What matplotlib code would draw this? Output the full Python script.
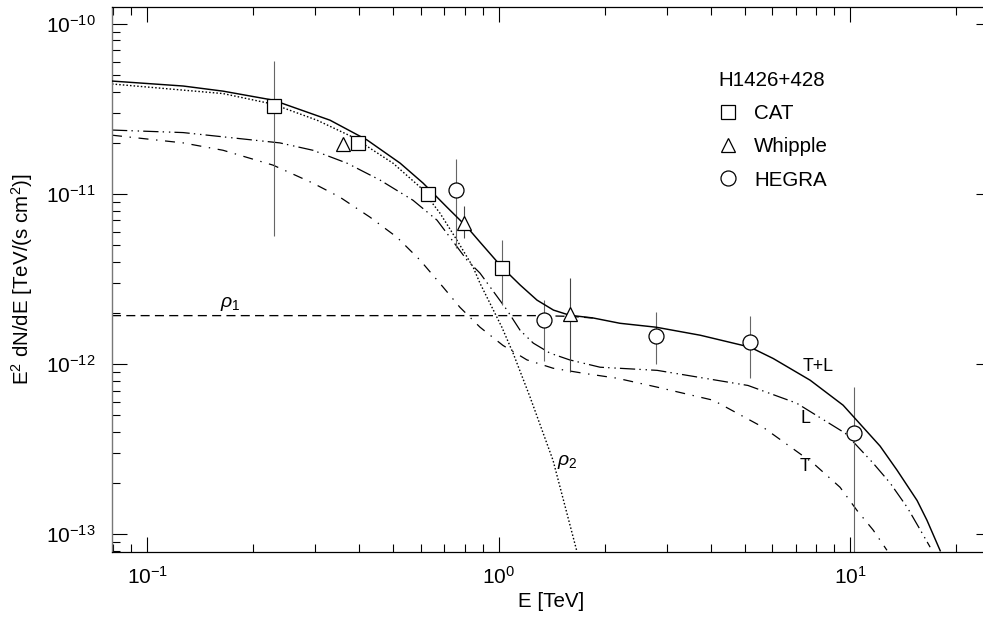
import numpy as np
import matplotlib
matplotlib.use("Agg")
import matplotlib.pyplot as plt
from matplotlib.lines import Line2D
from matplotlib.ticker import LogLocator, NullFormatter, FixedLocator

plt.rcParams['font.family'] = ['Liberation Sans', 'DejaVu Sans']
plt.rcParams['mathtext.fontset'] = 'custom'
plt.rcParams['mathtext.rm'] = 'Liberation Sans'
plt.rcParams['mathtext.it'] = 'Liberation Sans:italic'
plt.rcParams['lines.scale_dashes'] = False

# measured points: H1426+428
cat_e = [0.229, 0.398, 0.629, 1.02]
cat_f = [3.3e-11, 2.0e-11, 1.0e-11, 3.7e-12]
cat_lo = [5.7e-12, 2.0e-11, 1.0e-11, 2.22e-12]
cat_hi = [6.1e-11, 2.0e-11, 1.0e-11, 5.4e-12]

whipple_e = [0.360, 0.797, 1.59]
whipple_f = [1.97e-11, 6.8e-12, 1.97e-12]
whipple_lo = [1.97e-11, 5.5e-12, 9.0e-13]
whipple_hi = [1.97e-11, 8.5e-12, 3.2e-12]

hegra_e = [0.755, 1.348, 2.80, 5.18, 10.25]
hegra_f = [1.06e-11, 1.82e-12, 1.46e-12, 1.35e-12, 3.93e-13]
hegra_lo = [4.8e-12, 1.05e-12, 1.0e-12, 8.3e-13, 5e-14]
hegra_hi = [1.61e-11, 2.38e-12, 2.02e-12, 1.91e-12, 7.3e-13]

# model curves
tl_e = [0.0794, 0.1265, 0.1643, 0.2279, 0.331, 0.422, 0.524, 0.609, 0.711, 0.812,
        0.884, 1.02, 1.15, 1.284, 1.43, 1.59, 1.853, 2.21, 2.80, 3.74, 5.18, 6.03,
        7.68, 9.53, 12.14, 13.57, 15.47, 16.5, 18.0]
tl_f = [4.62e-11, 4.32e-11, 4.03e-11, 3.57e-11, 2.72e-11, 2.08e-11, 1.52e-11, 1.16e-11,
        8.4e-12, 6.4e-12, 5.22e-12, 3.72e-12, 2.92e-12, 2.38e-12, 2.08e-12, 1.94e-12,
        1.87e-12, 1.74e-12, 1.65e-12, 1.48e-12, 1.26e-12, 1.08e-12, 8.05e-13, 5.74e-13,
        3.3e-13, 2.38e-13, 1.58e-13, 1.21e-13, 8.0e-14]

rho2_e = [0.0794, 0.1643, 0.2279, 0.304, 0.385, 0.50, 0.597, 0.68, 0.76, 0.845,
          0.884, 1.02, 1.098, 1.227, 1.426, 1.668]
rho2_f = [4.44e-11, 3.9e-11, 3.38e-11, 2.72e-11, 2.16e-11, 1.52e-11, 1.10e-11, 7.73e-12,
          5.36e-12, 3.72e-12, 2.99e-12, 1.65e-12, 1.16e-12, 6.4e-13, 2.72e-13, 7.9e-14]

rho1_e = [0.0794, 1.3, 1.6, 1.85]
rho1_f = [1.93e-12, 1.93e-12, 1.91e-12, 1.87e-12]

l_e = [0.0794, 0.1265, 0.2384, 0.296, 0.370, 0.459, 0.570, 0.667, 0.711, 0.812, 0.884,
       1.055, 1.15, 1.253, 1.40, 1.59, 1.94, 2.82, 5.11, 7.03, 9.66, 11.6, 12.97, 14.5,
       15.8, 16.85]
l_f = [2.38e-11, 2.3e-11, 2.0e-11, 1.81e-11, 1.52e-11, 1.21e-11, 9.2e-12, 7.03e-12,
       5.9e-12, 4.09e-12, 3.43e-12, 2.08e-12, 1.58e-12, 1.33e-12, 1.16e-12, 1.06e-12,
       9.6e-13, 9.2e-13, 7.5e-13, 5.9e-13, 3.93e-13, 2.62e-13, 2.0e-13, 1.44e-13,
       1.06e-13, 8.4e-14]

t_e = [0.0794, 0.1265, 0.1643, 0.228, 0.296, 0.353, 0.430, 0.513, 0.597, 0.694, 0.775,
       0.884, 1.027, 1.202, 1.426, 1.736, 2.169, 2.82, 4.07, 5.64, 7.83, 9.34, 10.44,
       11.6, 12.7]
t_f = [2.22e-11, 2.0e-11, 1.81e-11, 1.48e-11, 1.16e-11, 9.6e-12, 7.32e-12, 5.58e-12,
       4.09e-12, 2.84e-12, 2.16e-12, 1.65e-12, 1.29e-12, 1.06e-12, 9.47e-13, 8.85e-13,
       8.27e-13, 7.33e-13, 6.14e-13, 4.26e-13, 2.62e-13, 1.89e-13, 1.38e-13, 1.06e-13,
       8.05e-14]

x_major = [0.1, 1.0, 10.0]
y_major = [1e-13, 1e-12, 1e-11, 1e-10]

fig = plt.figure(figsize=(9.83, 6.18), dpi=100)
ax = fig.add_axes([112 / 983, 66.3 / 618, 879 / 983, 544.7 / 618])
ax.set_xscale('log')
ax.set_yscale('log')

ax.plot(tl_e, tl_f, color='black', lw=1.05, zorder=3)
ax.plot(rho2_e, rho2_f, color='black', lw=1.0, ls=(0, (1.1, 1.5)))
ax.plot(rho1_e, rho1_f, color='black', lw=0.95, ls=(0, (6.5, 3.8)))
ax.plot(l_e, l_f, color='black', lw=0.9, ls=(0, (11, 3, 1, 3.5, 1, 3)))
ax.plot(t_e, t_f, color='black', lw=0.9, ls=(0, (7.2, 5.5, 1, 5.5)))


def draw_points(e, f, lo, hi, marker, ms, ecolor):
    f = np.array(f)
    yerr = [f - np.array(lo), np.array(hi) - f]
    ax.errorbar(e, f, yerr=yerr, fmt='none', ecolor=ecolor, elinewidth=0.8,
                capsize=0, zorder=2)
    ax.plot(e, f, ls='none', marker=marker, ms=ms, mfc='white', mec='black',
            mew=0.9, zorder=4)


draw_points(cat_e, cat_f, cat_lo, cat_hi, 's', 9.4, '#666666')
draw_points(whipple_e, whipple_f, whipple_lo, whipple_hi, '^', 9.6, '#444444')
draw_points(hegra_e, hegra_f, hegra_lo, hegra_hi, 'o', 10.8, '#666666')

ax.set_xlim(0.0794, 25.1)
ax.set_ylim(7.9e-14, 1.259e-10)

ax.text(0.172, 2.25e-12, r'$\rho_1$', fontsize=14, ha='center', va='center')
ax.text(1.563, 2.65e-13, r'$\rho_2$', fontsize=14, ha='center', va='center')
ax.text(8.09, 9.7e-13, 'T+L', fontsize=12.8, ha='center', va='center')
ax.text(7.43, 4.8e-13, 'L', fontsize=12.8, ha='center', va='center')
ax.text(7.43, 2.51e-13, 'T', fontsize=12.8, ha='center', va='center')

handles = [Line2D([], [], ls='none', marker='s', ms=9.4, mfc='white', mec='black', mew=0.9),
           Line2D([], [], ls='none', marker='^', ms=9.6, mfc='white', mec='black', mew=0.9),
           Line2D([], [], ls='none', marker='o', ms=10.8, mfc='white', mec='black', mew=0.9)]
ax.legend(handles, ['CAT', 'Whipple', 'HEGRA'], title='H1426+428', title_fontsize=14.8,
          fontsize=14.8, frameon=False, alignment='left', handlelength=1.0,
          handletextpad=0.75, labelspacing=0.7, borderpad=0, borderaxespad=0,
          loc='upper left', bbox_to_anchor=(0.6894, 0.8834))

ax.xaxis.set_major_locator(FixedLocator(x_major))
ax.yaxis.set_major_locator(FixedLocator(y_major))
ax.xaxis.set_minor_locator(LogLocator(base=10, subs=np.arange(2, 10)))
ax.yaxis.set_minor_locator(LogLocator(base=10, subs=np.arange(2, 10)))
ax.xaxis.set_minor_formatter(NullFormatter())
ax.yaxis.set_minor_formatter(NullFormatter())
ax.tick_params(which='both', direction='in', top=True, right=True, labelsize=15,
               width=0.8, color='black')
ax.tick_params(which='major', length=10.6)
ax.tick_params(which='minor', length=5.6)
ax.tick_params(axis='x', which='major', pad=10)
ax.tick_params(axis='y', which='major', pad=12)
for side in ['top', 'bottom', 'right']:
    ax.spines[side].set_linewidth(0.9)
ax.spines['left'].set_linewidth(1.0)
ax.spines['left'].set_color('#777777')

ax.set_xlabel('E [TeV]', fontsize=14.8, labelpad=3)
ax.set_ylabel(r'E$^2$ dN/dE [TeV/(s cm$^2$)]', fontsize=14.8)
ax.yaxis.set_label_coords(-0.088, 0.5)

fig.savefig('out.png', dpi=100)
